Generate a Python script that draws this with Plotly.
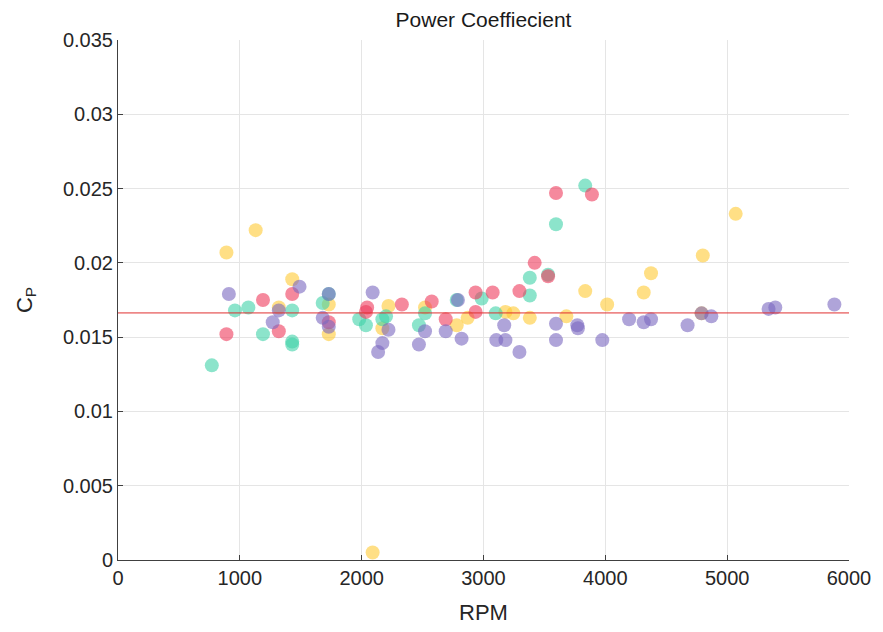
import plotly.graph_objects as go

yellow_rpm = [890, 1130, 1430, 1320, 1730, 1730, 2090, 2170, 2220, 2520, 2780, 2870, 3180, 3245, 3380, 3680, 3835, 4015, 4315, 4375, 4800, 5070, 4790]
yellow_cp = [0.0207, 0.0222, 0.0189, 0.0170, 0.0172, 0.0152, 0.0005, 0.0156, 0.0171, 0.0170, 0.0158, 0.0163, 0.0167, 0.0166, 0.0163, 0.0164, 0.0181, 0.0172, 0.0180, 0.0193, 0.0205, 0.0233, 0.0166]

teal_rpm = [770, 960, 1070, 1190, 1430, 1430, 1430, 1680, 1980, 2035, 2170, 2470, 2520, 2780, 2985, 3100, 3380, 3380, 3530, 3595, 3835, 1730, 2200]
teal_cp = [0.0131, 0.0168, 0.0170, 0.0152, 0.0168, 0.0147, 0.0145, 0.0173, 0.0162, 0.0158, 0.0162, 0.0158, 0.0166, 0.0175, 0.0176, 0.0166, 0.0190, 0.0178, 0.0192, 0.0226, 0.0252, 0.0179, 0.0164]

red_rpm = [890, 1190, 1320, 1430, 1730, 2035, 2045, 2330, 2575, 2690, 2935, 2935, 3075, 3295, 3420, 3530, 3595, 3890]
red_cp = [0.0152, 0.0175, 0.0154, 0.0179, 0.0160, 0.0167, 0.0170, 0.0172, 0.0174, 0.0162, 0.0180, 0.0167, 0.0180, 0.0181, 0.0200, 0.0191, 0.0247, 0.0246]

purple_rpm = [910, 1270, 1320, 1490, 1680, 1730, 1730, 2090, 2135, 2170, 2220, 2470, 2520, 2690, 2790, 2820, 3105, 3170, 3180, 3295, 3595, 3595, 3770, 3775, 3975, 4195, 4315, 4375, 4675, 4790, 4870, 5340, 5395, 5880]
purple_cp = [0.0179, 0.0160, 0.0168, 0.0184, 0.0163, 0.0179, 0.0157, 0.0180, 0.0140, 0.0146, 0.0155, 0.0145, 0.0154, 0.0154, 0.0175, 0.0149, 0.0148, 0.0158, 0.0148, 0.0140, 0.0159, 0.0148, 0.0158, 0.0156, 0.0148, 0.0162, 0.0160, 0.0162, 0.0158, 0.0166, 0.0164, 0.0169, 0.0170, 0.0172]

mean_cp = 0.01663
x_range = [0, 6000]
x_ticks = [0, 1000, 2000, 3000, 4000, 5000, 6000]
y_ticks = [0, 0.005, 0.01, 0.015, 0.02, 0.025, 0.03, 0.035]
y_tick_labels = ["0", "0.005", "0.01", "0.015", "0.02", "0.025", "0.03", "0.035"]

series = [
    (yellow_rpm, yellow_cp, "#FFC933"),
    (teal_rpm, teal_cp, "#3FD2A8"),
    (red_rpm, red_cp, "#EE3A5C"),
    (purple_rpm, purple_cp, "#7A68C0"),
]

fig = go.Figure()
for xs, ys, c in series:
    fig.add_trace(go.Scatter(x=xs, y=ys, mode="markers",
                             marker=dict(size=14, color=c, opacity=0.6, line=dict(width=0)),
                             showlegend=False, hoverinfo="x+y"))

fig.add_trace(go.Scatter(x=x_range, y=[mean_cp, mean_cp], mode="lines",
                         line=dict(color="#E03030", width=1), showlegend=False))

FAM = "Liberation Sans, Arial, sans-serif"
axis_font = dict(family=FAM, size=20, color="#262626")
fig.update_layout(
    width=883, height=632,
    margin=dict(l=118, r=29, t=40, b=70),
    paper_bgcolor="white", plot_bgcolor="white",
    title=dict(text="Power Coeffiecient", x=0.5, xanchor="center", xref="paper",
               y=1 - 20 / 632, yanchor="middle",
               font=dict(family=FAM, size=21, color="#1a1a1a")),
    font=axis_font,
    xaxis=dict(range=x_range, tickvals=x_ticks, ticks="inside", ticklen=5, tickcolor="#404040",
               showline=True, linecolor="#404040", linewidth=1, mirror=False,
               showgrid=True, gridcolor="#e5e5e5", zeroline=False,
               title=dict(text="RPM", font=dict(size=22, family=FAM), standoff=16),
               tickfont=axis_font),
    yaxis=dict(range=[0, 0.035], tickvals=y_ticks, ticktext=y_tick_labels, ticks="inside", ticklen=5,
               tickcolor="#404040", showline=True, linecolor="#404040", linewidth=1, mirror=False,
               showgrid=True, gridcolor="#e5e5e5", zeroline=False,
               title=dict(text="C<sub>P</sub>", font=dict(size=22, family=FAM), standoff=24),
               tickfont=axis_font),
)

fig.write_html("out.html")
